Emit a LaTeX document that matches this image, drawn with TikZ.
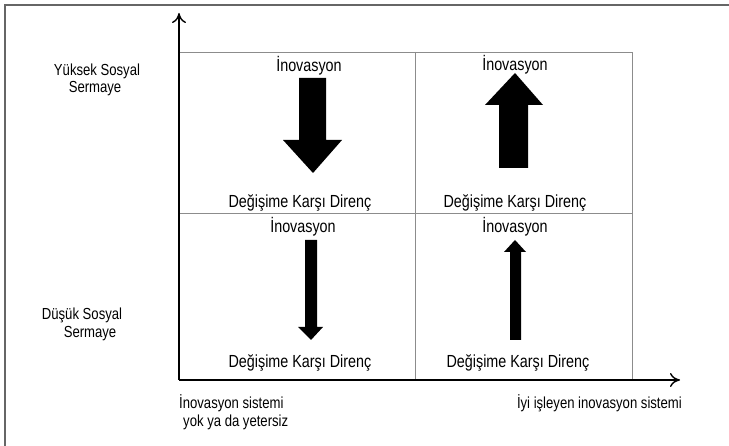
\documentclass[tikz,border=0pt]{standalone}
\usepackage{fontspec}
\setmainfont{Liberation Sans}[FakeStretch=0.82]
\usetikzlibrary{arrows.meta}
\begin{document}
\begin{tikzpicture}[x=1pt,y=1pt,
  lbl/.style={inner sep=0pt,font=\fontsize{17.5}{20}\selectfont},
  side/.style={inner sep=0pt,font=\fontsize{16}{19}\selectfont},
  gridline/.style={draw=black!45,line width=0.9pt},
  axis/.style={draw=black,line width=1.4pt,-{To[length=10pt,width=14pt,line width=1.4pt]}},
  blockarrow/.style={fill=black,draw=none}]
\useasboundingbox (0,0) rectangle (729,446);
% outer frame
\draw[black!60,line width=1.6pt] (5,0) -- (5,441) -- (729,441);
% coordinates (y flipped)
\coordinate (O) at (179,66);
\coordinate (Ytop) at (179,433);
\coordinate (Xend) at (680,66);
% grid
\draw[gridline] (179,394) -- (632,394) -- (632,66);
\draw[gridline] (415,394) -- (415,66);
\draw[gridline] (179,233) -- (632,233);
% axes
\draw[axis] (O) -- (Ytop);
\draw[axis] (O) -- (Xend);
% block arrows
\fill[blockarrow] (299,368) -- (326,368) -- (326,306) -- (342,306) -- (313,273) -- (283,306) -- (299,306) -- cycle;
\fill[blockarrow] (499,278) -- (528,278) -- (528,341) -- (543,341) -- (515,373) -- (485,341) -- (499,341) -- cycle;
\fill[blockarrow] (305,206) -- (317,206) -- (317,119) -- (323,119) -- (311,106) -- (298,119) -- (305,119) -- cycle;
\fill[blockarrow] (510,106) -- (521,106) -- (521,194) -- (526,194) -- (515,206) -- (504,194) -- (510,194) -- cycle;
% quadrant texts
\node[lbl] (i1) at (309,380) {İnovasyon};
\node[lbl] (i2) at (515,381) {İnovasyon};
\node[lbl] (i3) at (303,219) {İnovasyon};
\node[lbl] (i4) at (515,219) {İnovasyon};
\node[lbl] (d1) at (300,243) {Değişime Karşı Direnç};
\node[lbl] (d2) at (515,243) {Değişime Karşı Direnç};
\node[lbl] (d3) at (300,83) {Değişime Karşı Direnç};
\node[lbl] (d4) at (518,83) {Değişime Karşı Direnç};
% side labels
\node[side] (ys1) at (97,375) {Yüksek Sosyal};
\node[side] (ys2) at (95,357) {Sermaye};
\node[side] (ds1) at (82,131) {Düşük Sosyal};
\node[side] (ds2) at (90,112) {Sermaye};
% bottom labels
\node[side,anchor=west] (b1) at (179,43) {İnovasyon sistemi};
\node[side,anchor=west] (b2) at (183,24) {yok ya da yetersiz};
\node[side,anchor=east] (b3) at (682,43) {İyi işleyen inovasyon sistemi};
\end{tikzpicture}
\end{document}
